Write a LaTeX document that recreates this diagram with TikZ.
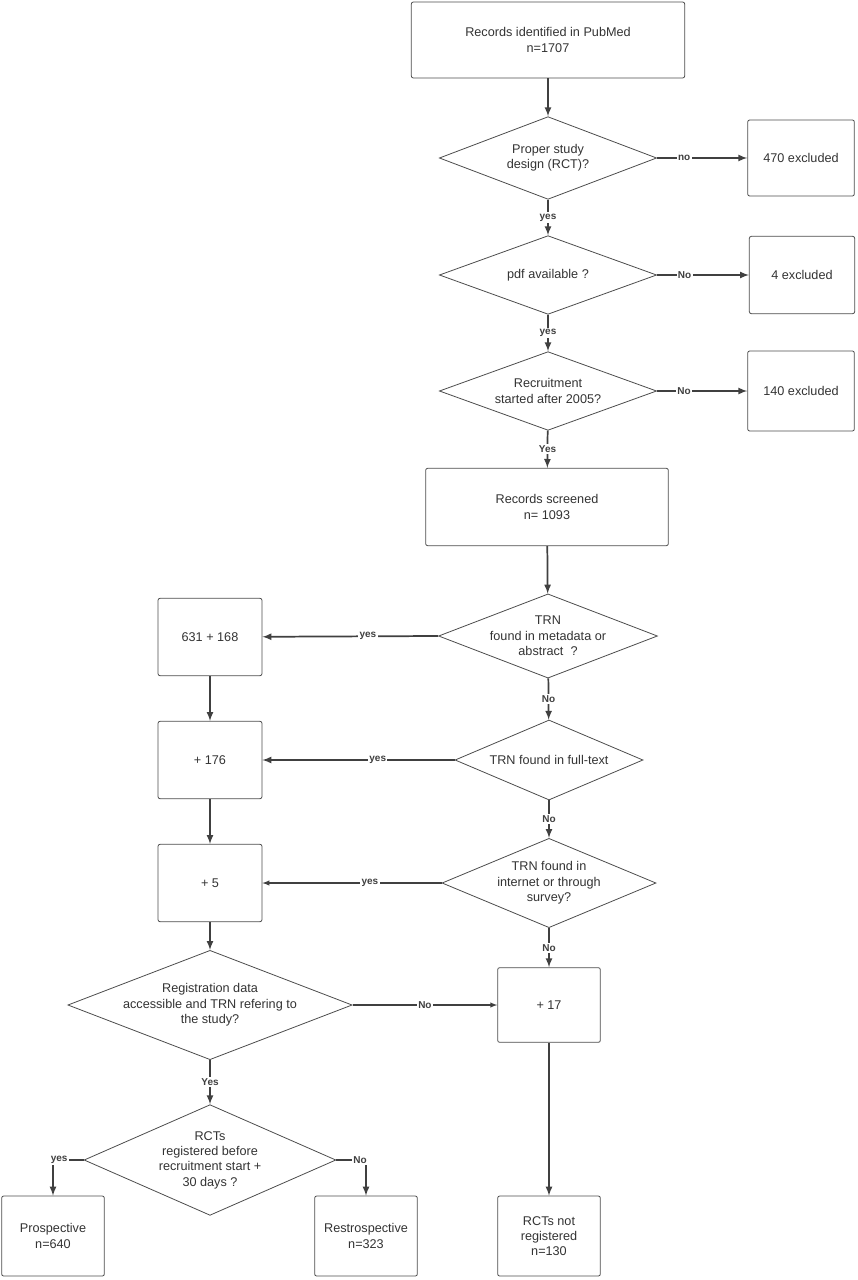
\documentclass[tikz,border=0pt]{standalone}
\usepackage{fontspec}
\setmainfont{Liberation Sans}
\usepackage{tikz}
\usetikzlibrary{shapes,arrows,positioning,calc}

\begin{document}
\begin{tikzpicture}[
    x=0.75pt, y=-0.75pt,
    >=latex,
    every node/.style={text=black!80, font=\fontsize{9.5}{11.5}\selectfont},
    box/.style={rectangle, draw=black!70, line width=0.6pt, rounded corners=1.5pt, align=center, inner sep=0pt},
    decision/.style={diamond, draw=black!70, line width=0.6pt, align=center, inner sep=0pt, aspect=2.6},
    flow/.style={->, draw=black!75, line width=1.3pt},
    tag/.style={font=\fontsize{7.5}{9}\selectfont\bfseries, text=black!75, fill=white, inner sep=1pt}
]
    \useasboundingbox (0,0) rectangle (857,1280);

    % main column
    \node[box, minimum width=205pt, minimum height=57pt] (records) at (548,40) {Records identified in PubMed\\n=1707};
    \node[decision, minimum width=163pt, minimum height=62pt] (design) at (548,158) {Proper study\\design (RCT)?};
    \node[decision, minimum width=163pt, minimum height=59pt] (pdf) at (548,275) {pdf available ?};
    \node[decision, minimum width=163pt, minimum height=59pt] (recruit) at (548,391) {Recruitment\\started after 2005?};
    \node[box, minimum width=182pt, minimum height=58pt] (screened) at (547,507) {Records screened\\n= 1093};
    \node[decision, minimum width=152pt, minimum height=60pt] (meta) at (548,636) {TRN\\found in metadata or\\abstract\ \ ?};
    \node[decision, minimum width=141pt, minimum height=60pt] (fulltext) at (549,760) {TRN found in full-text};
    \node[decision, minimum width=159pt, minimum height=67pt] (internet) at (549,883) {TRN found in\\internet or through\\survey?};
    \node[box, minimum width=77pt, minimum height=56pt] (plus17) at (549,1005) {+ 17};
    \node[box, minimum width=77pt, minimum height=60pt] (notreg) at (549,1236) {RCTs not\\registered\\n=130};

    % excluded
    \node[box, minimum width=80pt, minimum height=57pt] (excl1) at (801,158) {470 excluded};
    \node[box, minimum width=79pt, minimum height=58pt] (excl2) at (802,275) {4 excluded};
    \node[box, minimum width=80pt, minimum height=60pt] (excl3) at (801,391) {140 excluded};

    % left column
    \node[box, minimum width=78pt, minimum height=58pt] (found1) at (210,637) {631 + 168};
    \node[box, minimum width=78pt, minimum height=58pt] (found2) at (210,760) {+ 176};
    \node[box, minimum width=78pt, minimum height=58pt] (found3) at (210,883) {+ 5};
    \node[decision, minimum width=195pt, minimum height=68pt] (access) at (210,1005) {Registration data\\accessible and TRN refering to\\the study?};
    \node[decision, minimum width=134pt, minimum height=83pt] (timing) at (210,1160) {RCTs\\registered before\\recruitment start +\\30 days ?};
    \node[box, minimum width=77pt, minimum height=60pt] (prosp) at (53,1236) {Prospective\\n=640};
    \node[box, minimum width=77pt, minimum height=60pt] (retro) at (366,1236) {Restrospective\\n=323};

    % connectors
    \draw[flow] (records) -- (design);
    \draw[flow] (design) -- node[tag] {yes} (pdf);
    \draw[flow] (pdf) -- node[tag] {yes} (recruit);
    \draw[flow] (recruit) -- node[tag] {Yes} (screened);
    \draw[flow] (screened) -- (meta);
    \draw[flow] (meta) -- node[tag] {No} (fulltext);
    \draw[flow] (fulltext) -- node[tag] {No} (internet);
    \draw[flow] (internet) -- node[tag] {No} (plus17);
    \draw[flow] (plus17) -- (notreg);

    \draw[flow] (design.east) -- node[tag, pos=0.3] {no} (excl1);
    \draw[flow] (pdf.east) -- node[tag, pos=0.3] {No} (excl2);
    \draw[flow] (recruit.east) -- node[tag, pos=0.3] {No} (excl3);

    \draw[flow] (meta.west) -- node[tag, pos=0.4] {yes} (found1);
    \draw[flow] (fulltext.west) -- node[tag, pos=0.4] {yes} (found2);
    \draw[flow, line width=0.8pt] (internet.west) -- node[tag, pos=0.4] {yes} (found3);

    \draw[flow] (found1) -- (found2);
    \draw[flow] (found2) -- (found3);
    \draw[flow] (found3) -- (access);
    \draw[flow, line width=0.8pt] (access.east) -- node[tag, pos=0.5] {No} (plus17);
    \draw[flow] (access) -- node[tag] {Yes} (timing);
    \draw[flow] (timing.west) -| node[tag, pos=0.4] {yes} (prosp);
    \draw[flow] (timing.east) -| node[tag, pos=0.4] {No} (retro);
\end{tikzpicture}
\end{document}
